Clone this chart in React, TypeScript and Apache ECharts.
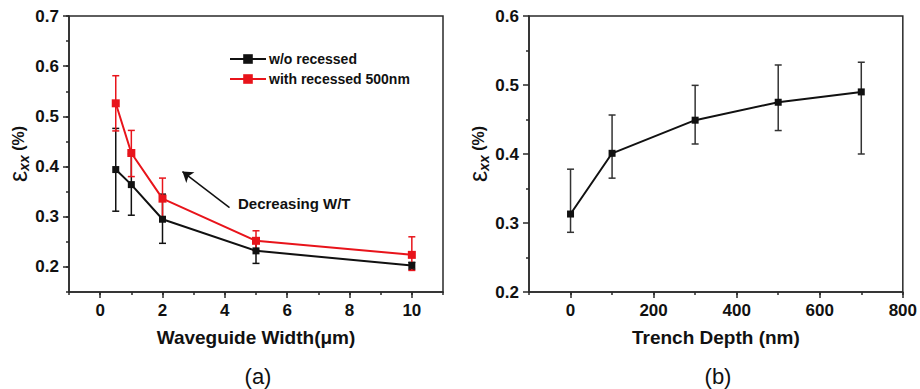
import React, { useEffect, useRef } from "react";
import * as echarts from "echarts";

// ---- Panel (a) data ----
const widths = [0.5, 1, 2, 5, 10];
const noRecessVals = [0.394, 0.364, 0.295, 0.232, 0.203];
const noRecessLow = [0.311, 0.303, 0.247, 0.207, 0.195];
const noRecessHigh = [0.476, 0.425, 0.345, 0.257, 0.209];
const recessVals = [0.526, 0.427, 0.336, 0.252, 0.224];
const recessLow = [0.471, 0.38, 0.296, 0.233, 0.193];
const recessHigh = [0.581, 0.472, 0.377, 0.272, 0.26];

// ---- Panel (b) data ----
const depths = [0, 100, 300, 500, 700];
const depthVals = [0.313, 0.401, 0.449, 0.475, 0.49];
const depthLow = [0.2865, 0.365, 0.4145, 0.434, 0.4];
const depthHigh = [0.378, 0.4565, 0.4995, 0.529, 0.533];

// ---- Annotation (panel a): arrow tail/head in data units ----
const arrowTail = [4.15, 0.318];
const arrowHead = [2.64, 0.39];

const FONT = '"Liberation Sans", Arial, sans-serif';
const AX = "#2a2a2a";
const BLACK = "#111111";
const RED = "#e8141b";

const pairs = (xs: number[], ys: number[]) => xs.map((x, i) => [x, ys[i]]);
const triples = (xs: number[], lo: number[], hi: number[]) => xs.map((x, i) => [x, lo[i], hi[i]]);

function errorBars(name: string, xIdx: number, yIdx: number, data: number[][], color: string, z: number) {
  return {
    type: "custom",
    name,
    xAxisIndex: xIdx,
    yAxisIndex: yIdx,
    silent: true,
    z,
    encode: { x: 0, y: [1, 2] },
    data,
    renderItem: (params: any, api: any) => {
      const x = api.value(0);
      const lo = api.coord([x, api.value(1)]);
      const hi = api.coord([x, api.value(2)]);
      const cap = 3.5;
      const style = { stroke: color, lineWidth: 1.5 };
      return {
        type: "group",
        children: [
          { type: "line", shape: { x1: lo[0], y1: lo[1], x2: hi[0], y2: hi[1] }, style },
          { type: "line", shape: { x1: lo[0] - cap, y1: lo[1], x2: lo[0] + cap, y2: lo[1] }, style },
          { type: "line", shape: { x1: hi[0] - cap, y1: hi[1], x2: hi[0] + cap, y2: hi[1] }, style },
        ],
      };
    },
  };
}

const tickLabel = { fontFamily: FONT, fontWeight: "bold", fontSize: 17, color: "#111" };

const yName = {
  name: "{e|ε}{s|xx}{n| (%)}",
  nameLocation: "middle",
  nameRotate: 90,
  nameGap: 34,
  nameTextStyle: {
    rich: {
      e: { fontFamily: FONT, fontSize: 25, color: "#111", lineHeight: 26, verticalAlign: "middle" },
      s: { fontFamily: FONT, fontSize: 14, fontStyle: "italic", fontWeight: "bold", color: "#111", lineHeight: 26, verticalAlign: "bottom" },
      n: { fontFamily: FONT, fontSize: 16, fontWeight: "bold", color: "#111", lineHeight: 26, verticalAlign: "middle" },
    },
  },
};

export default function App() {
  const ref = useRef<HTMLDivElement>(null);
  useEffect(() => {
    if (!ref.current) return;
    const chart = echarts.init(ref.current, undefined, { renderer: "svg" });
    const axisLine = { show: true, onZero: false, lineStyle: { color: AX, width: 1.5 } };
    const noLine = { show: false, onZero: false };
    const option: any = {
      animation: false,
      backgroundColor: "#ffffff",
      grid: [
        { left: 69, top: 16, width: 374, height: 276, show: true, borderColor: AX, borderWidth: 1.5, backgroundColor: "transparent" },
        { left: 529, top: 16, width: 374, height: 276, show: true, borderColor: AX, borderWidth: 1.5, backgroundColor: "transparent" },
      ],
      xAxis: [
        {
          type: "value", gridIndex: 0, min: -1, max: 11, minInterval: 2, maxInterval: 2, splitNumber: 6,
          axisLine, splitLine: { show: false },
          axisTick: { show: true, inside: false, length: 6, lineStyle: { color: AX, width: 1.5 } },
          axisLabel: { ...tickLabel, margin: 10, showMinLabel: false, showMaxLabel: false },
          name: "Waveguide Width(μm)", nameLocation: "middle", nameGap: 36,
          nameTextStyle: { fontFamily: FONT, fontWeight: "bold", fontSize: 19, color: "#111" },
        },
        {
          type: "value", gridIndex: 0, min: -1, max: 11, interval: 1, position: "bottom", offset: 0,
          axisLine: noLine, splitLine: { show: false }, axisLabel: { show: false },
          axisTick: { show: true, length: 3, lineStyle: { color: AX, width: 1.5 } },
        },
        {
          type: "value", gridIndex: 1, min: -100, max: 800, minInterval: 200, maxInterval: 200, splitNumber: 4,
          axisLine, splitLine: { show: false },
          axisTick: { show: true, length: 6, lineStyle: { color: AX, width: 1.5 } },
          axisLabel: { ...tickLabel, margin: 10, showMinLabel: false },
          name: "Trench Depth (nm)", nameLocation: "middle", nameGap: 36,
          nameTextStyle: { fontFamily: FONT, fontWeight: "bold", fontSize: 19, color: "#111" },
        },
        {
          type: "value", gridIndex: 1, min: -100, max: 800, interval: 100, position: "bottom", offset: 0,
          axisLine: noLine, splitLine: { show: false }, axisLabel: { show: false },
          axisTick: { show: true, length: 3, lineStyle: { color: AX, width: 1.5 } },
        },
      ],
      yAxis: [
        {
          type: "value", gridIndex: 0, min: 0.15, max: 0.7, minInterval: 0.1, maxInterval: 0.1, splitNumber: 5,
          axisLine, splitLine: { show: false },
          axisTick: { show: true, length: 6, lineStyle: { color: AX, width: 1.5 } },
          axisLabel: { ...tickLabel, margin: 10, showMinLabel: false },
          ...yName,
        },
        {
          type: "value", gridIndex: 0, min: 0.15, max: 0.7, interval: 0.05, position: "left", offset: 0,
          axisLine: noLine, splitLine: { show: false }, axisLabel: { show: false },
          axisTick: { show: true, length: 3, lineStyle: { color: AX, width: 1.5 } },
        },
        {
          type: "value", gridIndex: 1, min: 0.2, max: 0.6, interval: 0.1,
          axisLine, splitLine: { show: false },
          axisTick: { show: true, length: 6, lineStyle: { color: AX, width: 1.5 } },
          minorTick: { show: true, splitNumber: 2, length: 3, lineStyle: { color: AX, width: 1.5 } },
          axisLabel: { ...tickLabel, margin: 10 },
          ...yName,
        },
      ],
      legend: {
        data: ["w/o recessed", "with recessed 500nm"],
        orient: "vertical",
        left: 224,
        top: 47,
        itemWidth: 36,
        itemHeight: 12,
        itemGap: 6,
        textStyle: { fontFamily: FONT, fontWeight: "bold", fontSize: 14, color: "#111", padding: [0, 0, 0, -2] },
      },
      series: [
        errorBars("errA0", 0, 0, triples(widths, noRecessLow, noRecessHigh), BLACK, 3),
        errorBars("errA1", 0, 0, triples(widths, recessLow, recessHigh), RED, 4),
        {
          type: "line", name: "w/o recessed", xAxisIndex: 0, yAxisIndex: 0, z: 5,
          data: pairs(widths, noRecessVals),
          symbol: "rect", symbolSize: 7, itemStyle: { color: BLACK },
          lineStyle: { color: BLACK, width: 2 },
          markLine: {
            silent: true, symbol: ["none", "arrow"], symbolSize: 10,
            lineStyle: { color: BLACK, width: 1.5, type: "solid" },
            label: { show: false },
            data: [[{ coord: arrowTail }, { coord: arrowHead }]],
          },
        },
        {
          type: "line", name: "with recessed 500nm", xAxisIndex: 0, yAxisIndex: 0, z: 6,
          data: pairs(widths, recessVals),
          symbol: "rect", symbolSize: 8, itemStyle: { color: RED },
          lineStyle: { color: RED, width: 2 },
        },
        errorBars("errB", 2, 2, triples(depths, depthLow, depthHigh), "#333333", 3),
        {
          type: "line", name: "depth", xAxisIndex: 2, yAxisIndex: 2, z: 5,
          data: pairs(depths, depthVals),
          symbol: "rect", symbolSize: 7, itemStyle: { color: BLACK },
          lineStyle: { color: BLACK, width: 2 },
        },
      ],
      graphic: [
        { type: "text", left: 238, top: 196, style: { text: "Decreasing W/T", fontFamily: FONT, fontWeight: "bold", fontSize: 15, fill: "#111" } },
        { type: "text", x: 258, y: 376, style: { text: "(a)", fontFamily: FONT, fontSize: 22, fill: "#111", align: "center", verticalAlign: "middle" } },
        { type: "text", x: 718, y: 376, style: { text: "(b)", fontFamily: FONT, fontSize: 22, fill: "#111", align: "center", verticalAlign: "middle" } },
      ],
    };
    chart.setOption(option);
    return () => chart.dispose();
  }, []);
  return <div ref={ref} style={{ position: "fixed", left: 0, top: 0, width: 920, height: 389 }} />;
}
